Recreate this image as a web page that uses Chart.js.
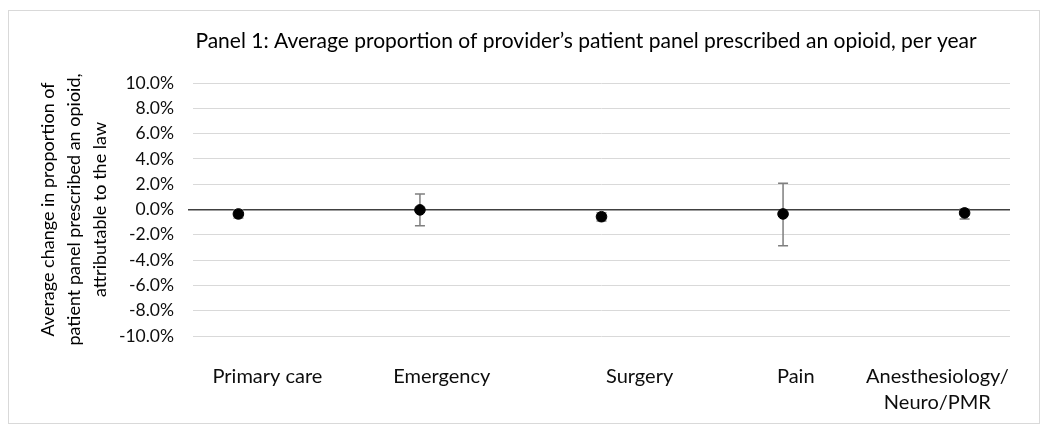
<!DOCTYPE html>
<html>
<head>
<meta charset="utf-8">
<script src="https://cdn.jsdelivr.net/npm/chart.js@4.4.0/dist/chart.umd.min.js"></script>
<style>
  body { margin: 0; background: #fff; }
  #box { position: absolute; left: 8px; top: 10px; width: 1030px; height: 412px; border: 1px solid #d9d9d9; }
</style>
</head>
<body>
<div id="box"><canvas id="chart"></canvas></div>
<script>
const categories = ['Primary care', 'Emergency', 'Surgery', 'Pain', ['Anesthesiology/', 'Neuro/PMR']];
const xPos = [1, 2, 3, 4, 5];
const labelPos = [1.16, 2.12, 3.21, 4.07, 4.85];
const estimates = [-0.35, -0.03, -0.57, -0.35, -0.27];
const upper = [-0.02, 1.22, -0.25, 2.07, 0.04];
const lower = [-0.68, -1.29, -0.9, -2.86, -0.75];
const yTicks = [-10, -8, -6, -4, -2, 0, 2, 4, 6, 8, 10];

const font = 'Lato';

const errorBars = {
    id: 'errorBars',
    beforeDatasetsDraw(chart) {
        const ctx = chart.ctx;
        const x = chart.scales.x;
        const y = chart.scales.y;
        ctx.save();
        ctx.strokeStyle = '#7f7f7f';
        ctx.lineWidth = 1.5;
        xPos.forEach((v, i) => {
            const px = x.getPixelForValue(v);
            const top = y.getPixelForValue(upper[i]);
            const bot = y.getPixelForValue(lower[i]);
            ctx.beginPath();
            ctx.moveTo(px, top); ctx.lineTo(px, bot);
            ctx.moveTo(px - 5, top); ctx.lineTo(px + 5, top);
            ctx.moveTo(px - 5, bot); ctx.lineTo(px + 5, bot);
            ctx.stroke();
        });
        ctx.restore();
    }
};

const panelTitle = {
    id: 'panelTitle',
    afterDraw(chart) {
        const ctx = chart.ctx;
        ctx.save();
        ctx.font = '21px ' + font;
        ctx.fillStyle = '#000';
        ctx.textAlign = 'center';
        ctx.textBaseline = 'middle';
        ctx.fillText('Panel 1: Average proportion of provider\u2019s patient panel prescribed an opioid, per year', 577, 30);
        ctx.restore();
    }
};

const ctx = document.getElementById('chart').getContext('2d');
const chart = new Chart(ctx, {
    type: 'scatter',
    data: {
        datasets: [{
            data: xPos.map((v, i) => ({ x: v, y: estimates[i] })),
            backgroundColor: '#000',
            borderColor: '#000',
            pointRadius: 5.3,
            pointHoverRadius: 5.3
        }]
    },
    options: {
        responsive: true,
        maintainAspectRatio: false,
        animation: false,
        layout: { padding: { left: 9, right: 29, top: 72, bottom: 0 } },
        plugins: {
            legend: { display: false },
            tooltip: { enabled: false }
        },
        scales: {
            x: {
                type: 'linear',
                min: 0.75,
                max: 5.25,
                afterBuildTicks: scale => { scale.ticks = labelPos.map(v => ({ value: v })); },
                afterFit: scale => { scale.height = 87; },
                grid: { display: false },
                border: { display: false },
                ticks: {
                    autoSkip: false,
                    maxRotation: 0,
                    padding: 20,
                    color: '#0d0d0d',
                    font: { family: font, size: 20, lineHeight: 1.3 },
                    callback: (v, i) => categories[i]
                }
            },
            y: {
                min: -10,
                max: 10,
                afterBuildTicks: scale => { scale.ticks = yTicks.map(v => ({ value: v })); },
                afterFit: scale => { scale.width = 175; },
                border: { display: false },
                grid: {
                    color: c => c.tick.value === 0 ? '#404040' : '#d9d9d9',
                    lineWidth: c => c.tick.value === 0 ? 1.5 : 1,
                    tickColor: c => c.tick.value === 0 ? '#404040' : 'rgba(0,0,0,0)',
                    tickLength: 5
                },
                ticks: {
                    padding: 14,
                    color: '#0d0d0d',
                    font: { family: font, size: 17.5 },
                    callback: v => v.toFixed(1) + '%'
                },
                title: {
                    display: true,
                    text: ['Average change in proportion of', 'patient panel prescribed an opioid,', 'attributable to the law'],
                    color: '#000',
                    font: { family: font, size: 18, lineHeight: 1.44 },
                    padding: { top: 17, bottom: 0 }
                }
            }
        }
    },
    plugins: [errorBars, panelTitle]
});
</script>
</body>
</html>
